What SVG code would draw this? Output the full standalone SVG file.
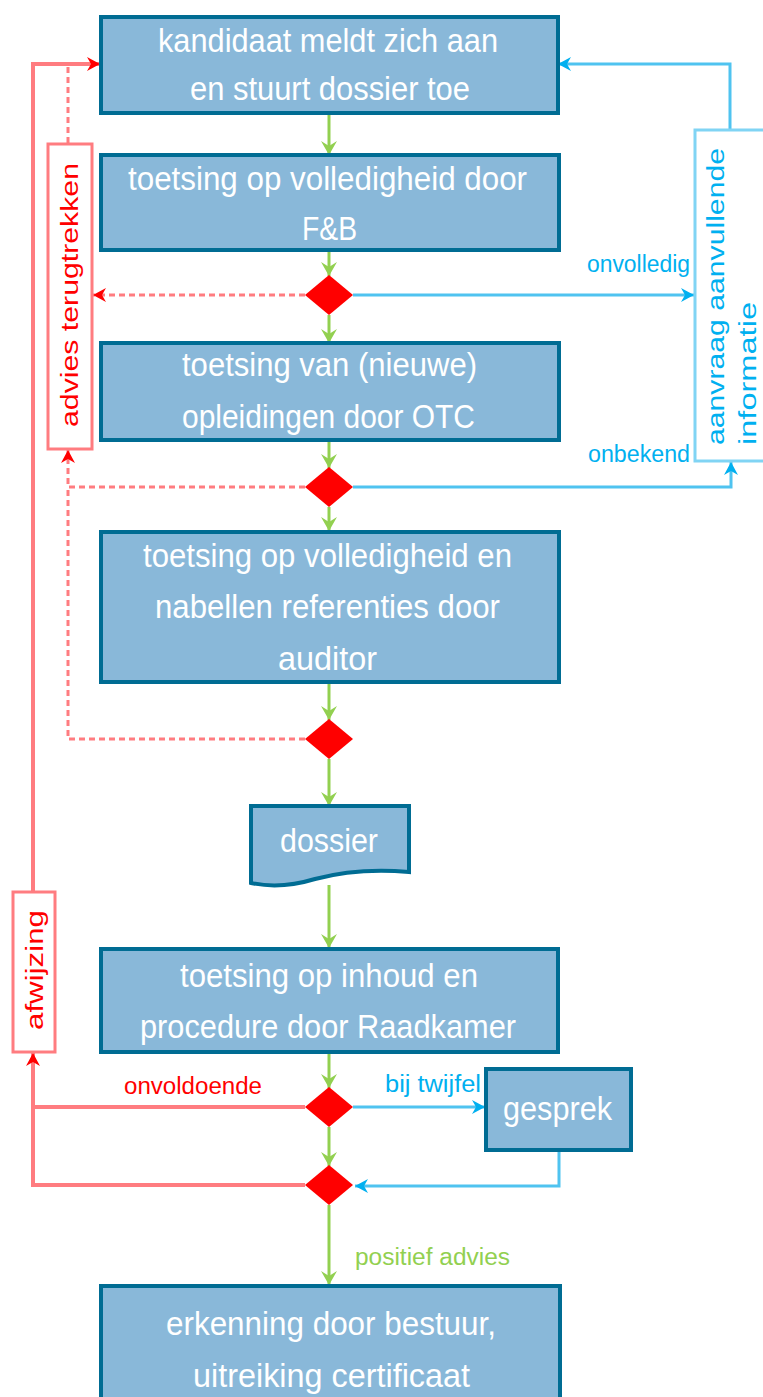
<svg xmlns="http://www.w3.org/2000/svg" width="763" height="1397" viewBox="0 0 763 1397">
<style>
.box{fill:#89b8d9;stroke:#006c93;stroke-width:4}
.bt{font-family:"Liberation Sans",Arial,sans-serif;font-size:34px;fill:#ffffff}
.dia{fill:#ff0000}
.g{fill:none;stroke:#92d050;stroke-width:3}
.rs{fill:none;stroke:#ff7c80;stroke-width:4}
.rd{fill:none;stroke:#ff7c80;stroke-width:3;stroke-dasharray:6 4}
.bl{fill:none;stroke:#4fc3f0;stroke-width:3}
.rbox{fill:#ffffff;stroke:#ff7c80;stroke-width:3}
.bbox{fill:#ffffff;stroke:#80d4f4;stroke-width:3}
.lt{font-family:"Liberation Sans",Arial,sans-serif;font-size:23px}
</style>
<defs>
<marker id="ag" markerUnits="userSpaceOnUse" markerWidth="20" markerHeight="20" refX="16" refY="10" orient="auto"><path d="M2,2 L16,10 L2,18 L7,10 Z" fill="#92d050"/></marker>
<marker id="ar" markerUnits="userSpaceOnUse" markerWidth="20" markerHeight="20" refX="16" refY="10" orient="auto"><path d="M3,3 L16,10 L3,17 L7,10 Z" fill="#ff0000"/></marker>
<marker id="ab" markerUnits="userSpaceOnUse" markerWidth="20" markerHeight="20" refX="16" refY="10" orient="auto"><path d="M3,3 L16,10 L3,17 L7,10 Z" fill="#00b0f0"/></marker>
</defs>

<g id="connectors">
<path class="g" d="M329,113 V155" marker-end="url(#ag)"/>
<path class="g" d="M329,250 V276" marker-end="url(#ag)"/>
<path class="g" d="M329,315 V343" marker-end="url(#ag)"/>
<path class="g" d="M329,440 V468" marker-end="url(#ag)"/>
<path class="g" d="M329,507 V531" marker-end="url(#ag)"/>
<path class="g" d="M329,682 V720" marker-end="url(#ag)"/>
<path class="g" d="M329,759 V806" marker-end="url(#ag)"/>
<path class="g" d="M329,885 V948" marker-end="url(#ag)"/>
<path class="g" d="M329,1052 V1088" marker-end="url(#ag)"/>
<path class="g" d="M329,1127 V1166" marker-end="url(#ag)"/>
<path class="g" d="M329,1205 V1285" marker-end="url(#ag)"/>

<path class="rs" d="M305,1107 H33"/>
<path class="rs" d="M305,1185 H33 V1053" marker-end="url(#ar)"/>
<path class="rs" d="M33,892 V64 H100" marker-end="url(#ar)"/>
<path class="rd" d="M305,295 H93" marker-end="url(#ar)"/>
<path class="rd" d="M305,487 H68 V450" marker-end="url(#ar)"/>
<path class="rd" d="M305,739 H68 V487"/>
<path class="rd" d="M68,143 V64"/>

<path class="bl" d="M353,295 H694" stroke-width="4" marker-end="url(#ab)"/>
<path class="bl" d="M353,487 H731 V462" stroke="#1ab4ec" marker-end="url(#ab)"/>
<path class="bl" d="M730,130 V64 H558" stroke="#7fd6f5" stroke-width="4" marker-end="url(#ab)"/>
<path class="bl" d="M353,1107 H485" stroke="#6fc6e8" stroke-width="4" marker-end="url(#ab)"/>
<path class="bl" d="M559,1150 V1186 H355" stroke="#00b0f0" marker-end="url(#ab)"/>

<text class="lt" x="587" y="272" fill="#00b0f0" textLength="103" lengthAdjust="spacingAndGlyphs">onvolledig</text>
<text class="lt" x="588" y="462" fill="#00b0f0" textLength="102" lengthAdjust="spacingAndGlyphs">onbekend</text>
<text class="lt" x="124" y="1094" fill="#ff0000" textLength="138" lengthAdjust="spacingAndGlyphs">onvoldoende</text>
<text class="lt" x="385" y="1092" fill="#00b0f0" textLength="96" lengthAdjust="spacingAndGlyphs">bij twijfel</text>
<text class="lt" x="355" y="1265" fill="#92d050" textLength="155" lengthAdjust="spacingAndGlyphs">positief advies</text>
</g>

<g id="n1"><rect class="box" x="101" y="17" width="457" height="96"/>
<text class="bt" x="158" y="52" textLength="340" lengthAdjust="spacingAndGlyphs">kandidaat meldt zich aan</text>
<text class="bt" x="190" y="100" textLength="280" lengthAdjust="spacingAndGlyphs">en stuurt dossier toe</text></g>

<g id="n2"><rect class="box" x="101" y="155" width="458" height="95"/>
<text class="bt" x="128" y="190" textLength="399" lengthAdjust="spacingAndGlyphs">toetsing op volledigheid door</text>
<text class="bt" x="302" y="240" textLength="55" lengthAdjust="spacingAndGlyphs">F&amp;B</text></g>

<g id="d1"><path class="dia" d="M329,275 L353,295 L329,315 L305,295 Z"/></g>

<g id="n3"><rect class="box" x="101" y="343" width="458" height="97"/>
<text class="bt" x="182" y="376" textLength="295" lengthAdjust="spacingAndGlyphs">toetsing van (nieuwe)</text>
<text class="bt" x="182" y="428" textLength="293" lengthAdjust="spacingAndGlyphs">opleidingen door OTC</text></g>

<g id="d2"><path class="dia" d="M329,467 L353,487 L329,507 L305,487 Z"/></g>

<g id="n4"><rect class="box" x="101" y="532" width="458" height="150"/>
<text class="bt" x="143" y="567" textLength="369" lengthAdjust="spacingAndGlyphs">toetsing op volledigheid en</text>
<text class="bt" x="155" y="618" textLength="345" lengthAdjust="spacingAndGlyphs">nabellen referenties door</text>
<text class="bt" x="278" y="670" textLength="99" lengthAdjust="spacingAndGlyphs">auditor</text></g>

<g id="d3"><path class="dia" d="M329,719 L353,739 L329,759 L305,739 Z"/></g>

<g id="n5"><path class="box" d="M251,806 H409 V872 C375,869 345,871 315,879 C292,886 270,887 251,883 Z"/>
<text class="bt" x="280" y="852" textLength="98" lengthAdjust="spacingAndGlyphs">dossier</text></g>

<g id="n6"><rect class="box" x="101" y="949" width="457" height="103"/>
<text class="bt" x="180" y="987" textLength="298" lengthAdjust="spacingAndGlyphs">toetsing op inhoud en</text>
<text class="bt" x="140" y="1038" textLength="376" lengthAdjust="spacingAndGlyphs">procedure door Raadkamer</text></g>

<g id="d4"><path class="dia" d="M329,1087 L353,1107 L329,1127 L305,1107 Z"/></g>

<g id="n7"><rect class="box" x="486" y="1069" width="145" height="81"/>
<text class="bt" x="503" y="1120" textLength="109" lengthAdjust="spacingAndGlyphs">gesprek</text></g>

<g id="d5"><path class="dia" d="M329,1165 L353,1185 L329,1205 L305,1185 Z"/></g>

<g id="n8"><rect class="box" x="101" y="1286" width="459" height="130"/>
<text class="bt" x="166" y="1335" textLength="330" lengthAdjust="spacingAndGlyphs">erkenning door bestuur,</text>
<text class="bt" x="193" y="1387" textLength="277" lengthAdjust="spacingAndGlyphs">uitreiking certificaat</text></g>

<g id="n9"><rect class="rbox" x="48" y="144" width="44" height="305"/>
<text class="lt" transform="translate(78,427) rotate(-90)" fill="#ff0000" textLength="264" lengthAdjust="spacingAndGlyphs">advies terugtrekken</text></g>

<g id="n10"><rect class="rbox" x="13" y="892" width="42" height="160"/>
<text class="lt" transform="translate(43,1030) rotate(-90)" fill="#ff0000" textLength="120" lengthAdjust="spacingAndGlyphs">afwijzing</text></g>

<g id="n11"><rect class="bbox" x="695" y="130" width="80" height="331"/>
<text class="lt" transform="translate(724,445) rotate(-90)" fill="#00b0f0" textLength="297" lengthAdjust="spacingAndGlyphs">aanvraag aanvullende</text>
<text class="lt" transform="translate(756,445) rotate(-90)" fill="#00b0f0" textLength="143" lengthAdjust="spacingAndGlyphs">informatie</text></g>
</svg>
